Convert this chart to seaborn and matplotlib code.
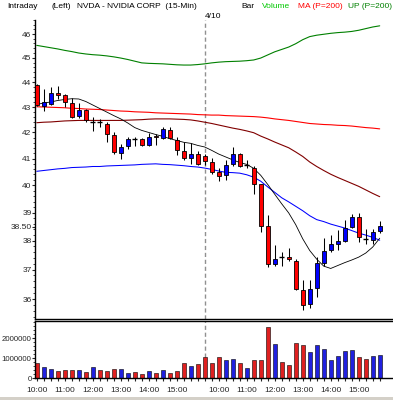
import numpy as np
import pandas as pd
import matplotlib
matplotlib.use('Agg')
import matplotlib.pyplot as plt
import seaborn as sns
from matplotlib.patches import Rectangle

sns.set_style('white')
plt.rcParams['font.family'] = ['Liberation Sans', 'DejaVu Sans']

# 15-min bars: 4/9 from 10:00, 4/10 from 9:30
day1_times = ['10:00', '10:15', '10:30', '10:45', '11:00', '11:15', '11:30', '11:45',
              '12:00', '12:15', '12:30', '12:45', '13:00', '13:15', '13:30', '13:45',
              '14:00', '14:15', '14:30', '14:45', '15:00', '15:15', '15:30', '15:45']
day2_times = ['09:30', '09:45'] + day1_times
bar_times = day1_times + day2_times

open_ = [43.90, 43.05, 43.10, 43.58, 43.46, 43.17, 42.66, 42.90, 42.40, 42.41,
         42.34, 41.92, 41.21, 41.47, 41.74, 41.76, 41.53, 41.88, 41.78, 42.10,
         41.69, 41.27, 41.03, 41.18, 41.08, 40.87, 40.49, 40.37, 40.78, 41.16,
         40.75, 40.65, 40.03, 38.51, 37.20, 37.45, 37.45, 37.31, 36.30, 35.83,
         36.39, 37.23, 37.66, 37.87, 38.00, 38.48, 38.84, 38.08, 38.02, 38.36]
high = [43.92, 43.73, 43.82, 43.86, 43.53, 43.34, 43.17, 42.93, 42.59, 42.51,
        42.40, 42.00, 41.54, 41.82, 41.81, 41.80, 41.99, 41.93, 42.21, 42.21,
        41.82, 41.63, 41.59, 41.29, 41.19, 41.03, 40.64, 40.93, 41.44, 41.21,
        40.93, 40.70, 40.06, 38.91, 37.85, 37.60, 37.73, 37.35, 36.64, 36.66,
        37.43, 38.08, 38.19, 38.37, 38.75, 38.96, 38.98, 38.42, 38.41, 38.70]
low = [43.03, 42.86, 43.08, 43.33, 43.02, 42.56, 42.56, 42.40, 42.04, 42.23,
       41.63, 41.18, 40.99, 41.38, 41.48, 41.47, 41.48, 41.53, 41.73, 41.73,
       41.12, 40.93, 40.78, 40.77, 40.77, 40.43, 40.14, 40.18, 40.70, 40.68,
       40.66, 39.69, 38.32, 37.09, 37.11, 37.11, 37.31, 36.32, 35.64, 35.70,
       36.07, 37.14, 37.60, 37.67, 37.96, 38.46, 37.94, 37.88, 37.90, 38.28]
close = [43.06, 43.18, 43.55, 43.48, 43.19, 42.62, 42.90, 42.47, 42.41, 42.40,
         41.95, 41.24, 41.44, 41.73, 41.73, 41.53, 41.82, 41.82, 42.12, 41.78,
         41.33, 41.03, 41.18, 40.81, 40.89, 40.51, 40.33, 40.77, 41.18, 40.70,
         40.77, 40.06, 38.53, 37.20, 37.38, 37.44, 37.37, 36.35, 35.80, 36.35,
         37.23, 37.63, 37.88, 38.00, 38.46, 38.84, 38.14, 38.05, 38.32, 38.51]
volume = [750000, 580000, 450000, 350000, 400000, 400000, 400000, 300000, 550000, 400000,
          350000, 450000, 450000, 250000, 300000, 200000, 350000, 250000, 400000, 250000,
          350000, 750000, 600000, 700000, 1050000, 750000, 1050000, 900000, 950000, 750000,
          500000, 900000, 900000, 2550000, 1700000, 800000, 650000, 1750000, 1650000, 1300000,
          1650000, 1450000, 900000, 1100000, 1350000, 1400000, 1050000, 950000, 1100000, 1150000]

ma_fast = [43.10, 43.16, 43.20, 43.26, 43.30, 43.33, 43.32, 43.22, 43.08, 42.94,
           42.80, 42.66, 42.53, 42.37, 42.19, 42.08, 42.00, 41.92, 41.85, 41.76,
           41.69, 41.62, 41.58, 41.50, 41.44, 41.31, 41.17, 41.06, 40.95, 40.85,
           40.78, 40.63, 40.37, 40.03, 39.67, 39.32, 38.99, 38.57, 38.07, 37.66,
           37.36, 37.12, 37.04, 37.14, 37.24, 37.33, 37.43, 37.57, 37.78, 38.09]
dn_band = [40.52, 40.55, 40.58, 40.61, 40.63, 40.66, 40.67, 40.68, 40.70, 40.70,
           40.72, 40.73, 40.74, 40.75, 40.76, 40.78, 40.79, 40.80, 40.78, 40.77,
           40.75, 40.73, 40.70, 40.68, 40.64, 40.59, 40.53, 40.48, 40.47, 40.45,
           40.39, 40.30, 40.15, 39.94, 39.74, 39.54, 39.39, 39.23, 39.07, 38.89,
           38.75, 38.68, 38.59, 38.52, 38.45, 38.36, 38.27, 38.20, 38.12, 38.02]
ma_200 = [43.01, 43.00, 42.99, 42.98, 42.97, 42.95, 42.94, 42.92, 42.91, 42.90,
          42.88, 42.86, 42.84, 42.83, 42.81, 42.80, 42.79, 42.77, 42.76, 42.75,
          42.74, 42.73, 42.72, 42.70, 42.69, 42.68, 42.68, 42.66, 42.65, 42.64,
          42.63, 42.62, 42.60, 42.57, 42.53, 42.50, 42.47, 42.43, 42.39, 42.35,
          42.33, 42.31, 42.30, 42.28, 42.27, 42.25, 42.22, 42.19, 42.17, 42.14]
ma_mid = [42.38, 42.40, 42.41, 42.43, 42.45, 42.46, 42.47, 42.47, 42.47, 42.47,
          42.47, 42.47, 42.47, 42.48, 42.49, 42.50, 42.52, 42.53, 42.53, 42.53,
          42.52, 42.51, 42.49, 42.45, 42.40, 42.35, 42.29, 42.23, 42.17, 42.12,
          42.06, 41.99, 41.86, 41.75, 41.63, 41.52, 41.41, 41.25, 41.08, 40.87,
          40.70, 40.55, 40.41, 40.29, 40.18, 40.07, 39.96, 39.83, 39.70, 39.58]
up_band = [45.52, 45.47, 45.42, 45.37, 45.31, 45.26, 45.20, 45.16, 45.13, 45.11,
           45.08, 45.04, 44.99, 44.93, 44.86, 44.79, 44.77, 44.76, 44.75, 44.73,
           44.71, 44.70, 44.70, 44.72, 44.75, 44.79, 44.82, 44.84, 44.85, 44.86,
           44.88, 44.91, 44.99, 45.12, 45.25, 45.35, 45.45, 45.59, 45.76, 45.89,
           45.95, 45.99, 46.03, 46.06, 46.08, 46.11, 46.16, 46.23, 46.30, 46.35]

price_ticks = [36, 37, 38, 38.5, 39, 40, 41, 42, 43, 44, 45, 46]
price_labels = ['36', '37', '38', '38.50', '39', '40', '41', '42', '43', '44', '45', '46']
vol_ticks = [0, 1000000, 2000000]
vol_labels = ['0', '1000000', '2000000']

df = pd.DataFrame({'bar': np.arange(len(close)), 'time': bar_times,
                   'open': open_, 'high': high, 'low': low, 'close': close,
                   'volume': volume})
df['dir'] = np.where(df['close'] > df['open'], 'up', 'down')
day_start = bar_times.index('09:30')

W, H = 393, 400
fig = plt.figure(figsize=(W / 100, H / 100), dpi=100)
ax = fig.add_axes([35 / W, 1 - 319 / H, 358 / W, 299 / H])
axv = fig.add_axes([35 / W, 1 - 378.3 / H, 358 / W, 57.3 / H])

RED, BLUE = '#ff0000', '#0000ff'

# candles
ax.vlines(df['bar'], df['low'], df['high'], color='black', lw=0.75, zorder=3)
body = df[(df['close'] - df['open']).abs() >= 0.035]
doji = df[(df['close'] - df['open']).abs() < 0.035]
ax.bar(body['bar'], (body['close'] - body['open']).abs(),
       bottom=body[['open', 'close']].min(axis=1), width=0.62,
       color=[BLUE if d == 'up' else RED for d in body['dir']],
       edgecolor='black', linewidth=0.6, zorder=4)
ax.hlines(doji['close'], doji['bar'] - 0.33, doji['bar'] + 0.33, color='black', lw=1, zorder=4)

# indicator lines
for vals, col, lw in [(up_band, '#008000', 0.8), (ma_200, RED, 0.8), (ma_mid, '#800000', 0.8),
                      (dn_band, BLUE, 0.75), (ma_fast, 'black', 0.6)]:
    sns.lineplot(x=df['bar'], y=vals, color=col, lw=lw, ax=ax, zorder=2)

ax.set_yscale('log')
ax.set_ylim(35.35, 46.57)
ax.set_xlim(-0.25, 50.9)
ax.set_yticks(price_ticks)
ax.set_yticklabels(price_labels)
ax.set_yticks(np.arange(35.4, 46.6, 0.2), minor=True)
ax.yaxis.set_minor_formatter(plt.NullFormatter())
ax.set_xticks([])
ax.set_xlabel('')
ax.set_ylabel('')
ax.axvline(day_start, color='#909090', lw=1, dashes=(3, 2), zorder=1)

# volume
sns.barplot(data=df, x='bar', y='volume', hue='dir', palette={'up': BLUE, 'down': RED},
            native_scale=True, dodge=False, width=0.6, errorbar=None, legend=False,
            edgecolor='black', linewidth=0.4, ax=axv)
axv.set_xlim(-0.25, 50.9)
axv.set_ylim(0, 2865000)
axv.set_yticks(vol_ticks)
axv.set_yticklabels(vol_labels)
axv.set_yticks(np.arange(0, 2800001, 200000), minor=True)
axv.yaxis.set_minor_formatter(plt.NullFormatter())
label_bars = df.index[df['time'].str.endswith(':00')]
axv.set_xticks(label_bars)
axv.set_xticklabels([t.lstrip('0') if t.startswith('0') else t for t in df['time'][label_bars]])
axv.set_xticks(df['bar'], minor=True)
axv.set_xlabel('')
axv.set_ylabel('')
axv.axvline(day_start, color='#909090', lw=1, dashes=(3, 2), zorder=0)

for a in (ax, axv):
    a.set_facecolor('white')
    for s in a.spines.values():
        s.set_color('black')
        s.set_linewidth(1)
    a.spines['right'].set_visible(False)
    a.tick_params(axis='y', which='major', direction='out', length=2, width=0.8,
                  pad=0.5, labelsize=6, left=True)
    a.tick_params(axis='y', which='minor', direction='out', length=1.2, width=0.6, left=True)
ax.spines['top'].set_visible(False)
axv.tick_params(axis='y', which='major', labelsize=5.6)
axv.tick_params(axis='x', which='both', direction='out', length=2.4, width=0.8,
                pad=4, labelsize=6, bottom=True)

# header texts
def htext(x, y, s, color='black', ha='left'):
    fig.text(x / W, 1 - y / H, s, color=color, fontsize=6, va='center', ha=ha)

htext(7, 7, 'Intraday')
htext(51.7, 7, '(Left)')
htext(77.3, 7, 'NVDA - NVIDIA CORP  (15-Min)')
htext(241.7, 7, 'Bar')
htext(261.7, 7, 'Volume', '#00c800')
htext(297.7, 7, 'MA (P=200)', RED)
htext(392, 7, 'UP (P=200)', '#008000', ha='right')
htext(205, 16.3, '4/10')

fig.patches.append(Rectangle((0, 0), 1, 3 / H, transform=fig.transFigure,
                             facecolor='#d4d0c8', edgecolor='none'))

fig.savefig('out.png', dpi=100)
